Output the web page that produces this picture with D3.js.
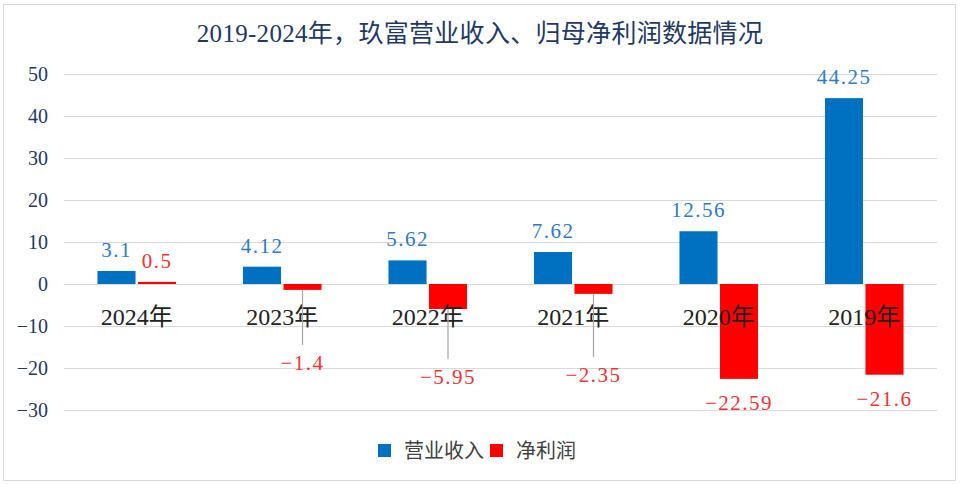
<html>
<head>
    <meta charset="utf-8">
    <script src="https://d3js.org/d3.v7.min.js"></script>
    <style>
        body { margin: 0; background: #fff; }
        text { font-family: "Liberation Serif", "Noto Sans CJK SC", serif; }
    </style>
</head>
<body>
    <svg id="chart"></svg>
    <script>
        var years = ["2024年", "2023年", "2022年", "2021年", "2020年", "2019年"];
        var seriesNames = ["营业收入", "净利润"];
        var revenue = [3.1, 4.12, 5.62, 7.62, 12.56, 44.25];
        var netProfit = [0.5, -1.4, -5.95, -2.35, -22.59, -21.6];
        var yTicks = [-30, -20, -10, 0, 10, 20, 30, 40, 50];

        var width = 960, height = 484;
        var colors = ["#0070c0", "#ff0000"];
        var labelColors = ["#2e7bc4", "#ef3333"];

        var svg = d3.select("#chart").attr("width", width).attr("height", height);

        svg.append("rect")
            .attr("x", 3.5).attr("y", 4.5)
            .attr("width", 952).attr("height", 476)
            .attr("fill", "#fff").attr("stroke", "#d9d9d9");

        svg.append("text")
            .attr("x", 480).attr("y", 42)
            .attr("text-anchor", "middle")
            .attr("fill", "#1f3864")
            .style("font-size", "25px")
            .style("letter-spacing", "0.3px")
            .text("2019-2024年，玖富营业收入、归母净利润数据情况");

        var x = d3.scaleBand().domain(years).range([64, 937]).paddingInner(0.46).paddingOuter(0.23);
        var xs = d3.scaleBand().domain([0, 1]).range([0, x.bandwidth()]).paddingInner(0.06);
        var y = d3.scaleLinear().domain([-30, 50]).range([410, 74]);

        // grid + tick labels
        var yAxis = svg.append("g")
            .attr("transform", "translate(64,0)")
            .call(d3.axisLeft(y).tickValues(yTicks).tickSize(-873).tickPadding(16).tickFormat(function (d) { return d < 0 ? "−" + (-d) : d; }));
        yAxis.select(".domain").remove();
        yAxis.selectAll("line").attr("stroke", "#d9d9d9");
        yAxis.selectAll("text")
            .attr("fill", "#1f3864")
            .style("font-size", "20px")
            .style("font-family", "Liberation Serif, serif");

        var data = years.map(function (yr, i) {
            return { year: yr, values: [revenue[i], netProfit[i]] };
        });

        var groups = svg.append("g").selectAll("g")
            .data(data).enter().append("g")
            .attr("transform", function (d) { return "translate(" + x(d.year) + ",0)"; });

        groups.selectAll("rect")
            .data(function (d) { return d.values; })
            .enter().append("rect")
            .attr("x", function (d, i) { return xs(i); })
            .attr("width", xs.bandwidth())
            .attr("y", function (d) { return y(Math.max(0, d)); })
            .attr("height", function (d) { return Math.abs(y(d) - y(0)); })
            .attr("fill", function (d, i) { return colors[i]; });

        // category labels sit on top of the bars
        svg.append("g").selectAll("text")
            .data(years).enter().append("text")
            .attr("x", function (d) { return x(d) + x.bandwidth() / 2; })
            .attr("y", 325)
            .attr("text-anchor", "middle")
            .attr("fill", "#222")
            .style("font-size", "24px")
            .text(function (d) { return d; });

        // leader-line labels for small negative bars (drop below bar end)
        var leaderDrop = { "2023年": 80, "2022年": 75, "2021年": 88 };

        data.forEach(function (d) {
            var gx = x(d.year);
            d.values.forEach(function (v, i) {
                var cx = gx + xs(i) + xs.bandwidth() / 2;
                var ty;
                if (v >= 0) {
                    ty = y(v) - 14;
                } else if (leaderDrop[d.year] && i === 1) {
                    ty = y(v) + leaderDrop[d.year];
                    svg.append("line")
                        .attr("x1", cx).attr("x2", cx)
                        .attr("y1", y(v)).attr("y2", ty - 25)
                        .attr("stroke", "#a6a6a6").attr("stroke-width", 1.2);
                } else {
                    ty = y(v) + 31;
                }
                svg.append("text")
                    .attr("x", cx).attr("y", ty)
                    .attr("text-anchor", "middle")
                    .attr("fill", labelColors[i])
                    .style("font-size", "21px")
                    .style("letter-spacing", "1.5px")
                    .text(v < 0 ? "−" + (-v) : v);
            });
        });

        // legend
        var legend = svg.append("g").attr("transform", "translate(378,444)");
        var lx = [0, 112];
        seriesNames.forEach(function (n, i) {
            legend.append("rect").attr("x", lx[i]).attr("y", 0).attr("width", 13).attr("height", 13).attr("fill", colors[i]);
            legend.append("text").attr("x", lx[i] + 26).attr("y", 14)
                .attr("fill", "#404040")
                .style("font-size", "20px")
                .text(n);
        });
    </script>
</body>
</html>
